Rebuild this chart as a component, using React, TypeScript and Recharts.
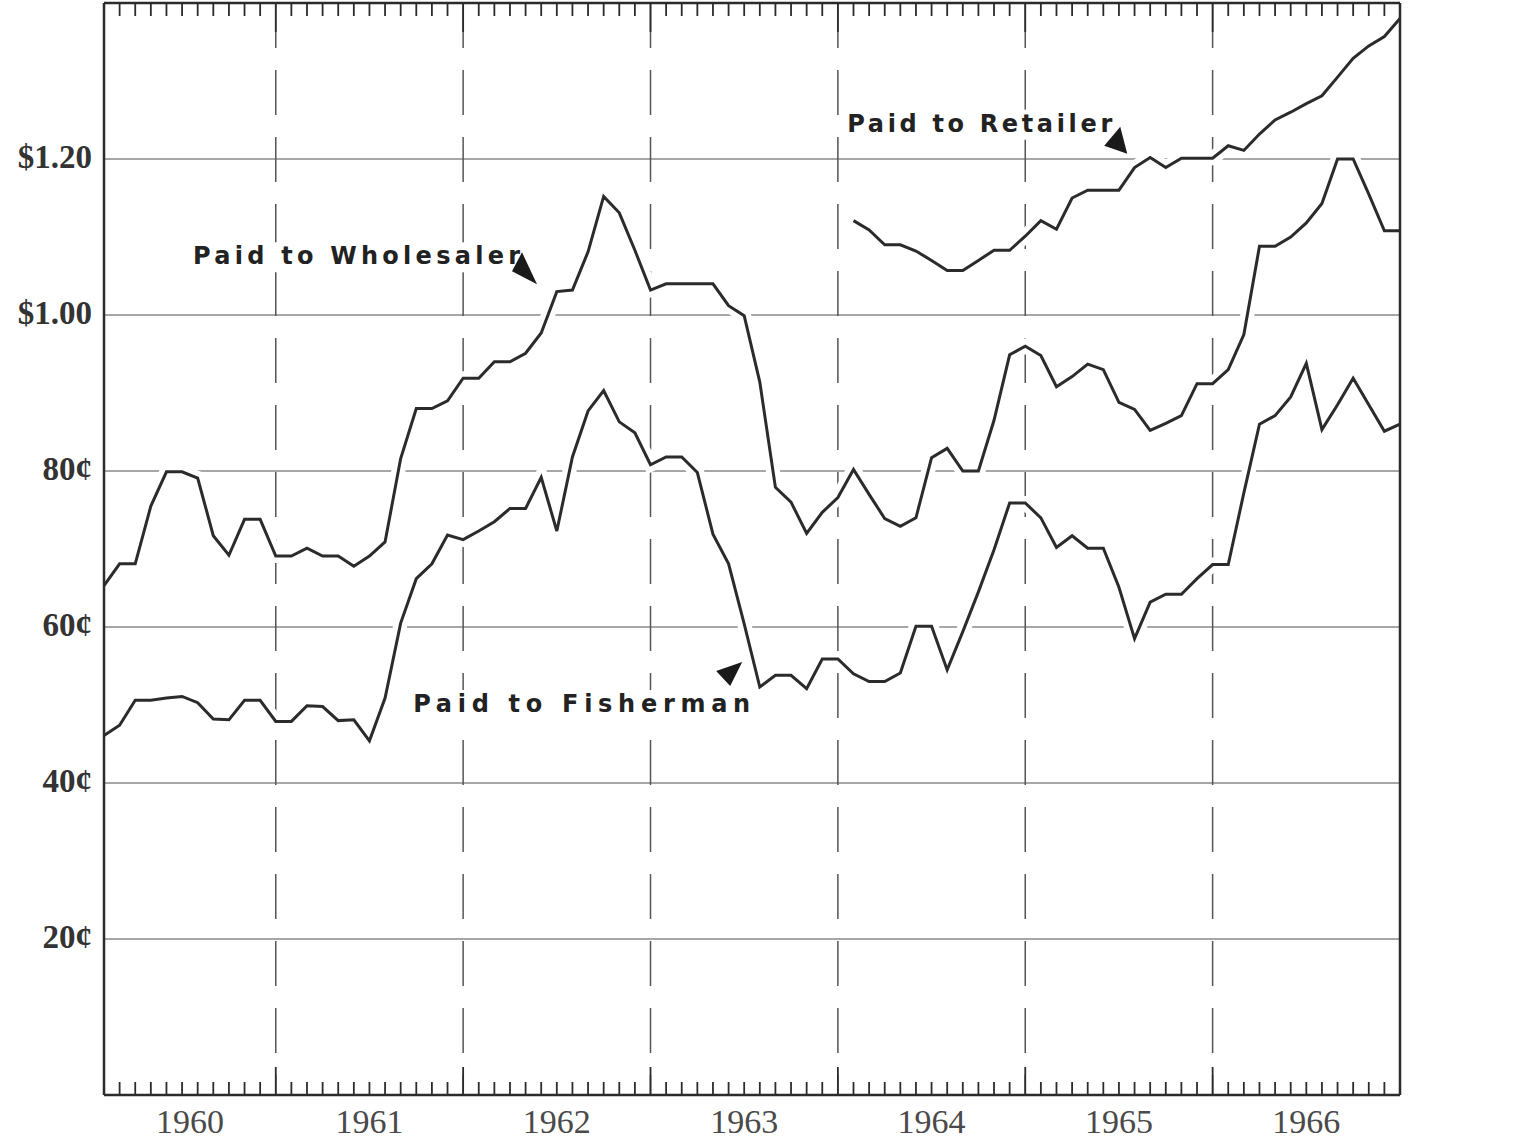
import React from 'react';
import { LineChart, Line, XAxis, YAxis, CartesianGrid, ReferenceLine, ReferenceDot } from 'recharts';

// Monthly prices in cents, month index 1 = Feb 1960 ... 84 = Jan 1967
const wholesaler = [
  65.3, 68.1, 68.1, 75.5, 79.9, 79.9, 79.1, 71.7, 69.2, 73.8, 73.8, 69.1,
  69.1, 70.1, 69.1, 69.1, 67.8, 69.1, 70.9, 81.6, 88.0, 88.0, 89.0, 91.9,
  91.9, 94.0, 94.0, 95.1, 97.7, 103.0, 103.2, 108.1, 115.2, 113.1, 108.3, 103.2,
  104.0, 104.0, 104.0, 104.0, 101.2, 99.9, 91.4, 77.9, 76.0, 72.0, 74.7, 76.6,
  80.2, 77.0, 73.9, 72.9, 74.0, 81.7, 82.9, 80.0, 80.0, 86.5, 94.9, 96.0,
  94.8, 90.8, 92.1, 93.7, 93.0, 88.8, 87.9, 85.2, 86.1, 87.1, 91.2, 91.2,
  93.0, 97.5, 108.8, 108.8, 110.0, 111.8, 114.3, 120.0, 120.0, 115.5, 110.8, 110.8,
];

const fisherman = [
  46.1, 47.4, 50.6, 50.6, 50.9, 51.1, 50.3, 48.2, 48.1, 50.6, 50.6, 47.9,
  47.9, 49.9, 49.8, 48.0, 48.1, 45.4, 50.9, 60.5, 66.2, 68.1, 71.8, 71.2,
  72.3, 73.5, 75.2, 75.2, 79.2, 72.3, 81.8, 87.7, 90.3, 86.3, 84.9, 80.8,
  81.8, 81.8, 79.8, 71.9, 68.1, 60.4, 52.3, 53.8, 53.8, 52.1, 55.9, 55.9,
  54.0, 53.0, 53.0, 54.1, 60.1, 60.1, 54.5, 59.4, 64.5, 69.9, 75.9, 75.9,
  74.0, 70.2, 71.7, 70.1, 70.1, 65.1, 58.5, 63.2, 64.2, 64.2, 66.2, 68.0,
  68.0, 77.2, 86.0, 87.1, 89.5, 93.8, 85.3, 88.5, 91.9, 88.5, 85.1, 86.0,
];

// Retailer series begins at month index 49
const retailerStart = 49;
const retailer = [
  112.1, 110.9, 109.0, 109.0, 108.2, 107.0, 105.7, 105.7, 107.0, 108.3, 108.3, 110.1,
  112.1, 111.0, 115.0, 116.0, 116.0, 116.0, 118.9, 120.2, 118.9, 120.1, 120.1, 120.1,
  121.7, 121.1, 123.2, 125.0, 126.0, 127.1, 128.1, 130.5, 132.9, 134.5, 135.7, 138.0,
];

const yearLabels = ['1960', '1961', '1962', '1963', '1964', '1965', '1966'];
const yearLabelPos = [6.5, 18, 30, 42, 54, 66, 78];
const yearBoundaries = [12, 24, 36, 48, 60, 72];
const yTicks = [20, 40, 60, 80, 100, 120];
const yTickLabels = ['20¢', '40¢', '60¢', '80¢', '$1.00', '$1.20'];

// annotation anchors (data coords: month index, cents)
const annotations = [
  { text: 'Paid to Wholesaler', m: 6.7, v: 106.5, width: 327, tri: [[329, -12], [319, 7], [344, 20]] },
  { text: 'Paid to Retailer', m: 48.6, v: 123.5, width: 265, tri: [[273, -5], [257, 14], [280, 22]] },
  { text: 'Paid to Fisherman', m: 20.8, v: 49.1, width: 337, tri: [[303, -41], [329, -50], [317, -26]] },
];

const data = wholesaler.map((w, i) => {
  const m = i + 1;
  const ri = m - retailerStart;
  return {
    m,
    wholesaler: w,
    fisherman: fisherman[i],
    retailer: ri >= 0 ? retailer[ri] : null,
  };
});

const monthTicks = data.map((d) => d.m).filter((m) => m > 1 && m < 84);
const allTicks = Array.from(new Set([...monthTicks, ...yearLabelPos])).sort((a, b) => a - b);

const W = 1518;
const H = 1143;
const PLOT_TOP = 3;
const PLOT_BOTTOM = 1095;
const INK = '#2b2b2b';

const XTick = (props: any) => {
  const { x, payload } = props;
  const v = payload.value;
  const isMonth = monthTicks.includes(v);
  const isYear = yearBoundaries.includes(v);
  const li = yearLabelPos.indexOf(v);
  return (
    <g>
      {isMonth && (
        <line x1={x} x2={x} y1={PLOT_BOTTOM} y2={PLOT_BOTTOM - (isYear ? 28 : 13)} stroke={INK} strokeWidth={1.8} />
      )}
      {isMonth && (
        <line x1={x} x2={x} y1={PLOT_TOP} y2={PLOT_TOP + (isYear ? 29 : 13)} stroke={INK} strokeWidth={1.8} />
      )}
      {li >= 0 && (
        <text x={x} y={1133} textAnchor="middle" fontFamily="'Liberation Serif', serif" fontSize={34} fill="#4a4a4a">
          {yearLabels[li]}
        </text>
      )}
    </g>
  );
};

const LeftTick = (props: any) => {
  const { y, payload } = props;
  const i = yTicks.indexOf(payload.value);
  return (
    <text x={92} y={y + 9} textAnchor="end" fontFamily="'Liberation Serif', serif" fontWeight={700} fontSize={33} fill="#333">
      {yTickLabels[i]}
    </text>
  );
};

const RightTick = (props: any) => {
  const { y, payload } = props;
  const i = yTicks.indexOf(payload.value);
  return (
    <text x={1423} y={y + 9} textAnchor="start" fontFamily="'Liberation Serif', serif" fontWeight={700} fontSize={33} fill="#333">
      {yTickLabels[i]}
    </text>
  );
};

const Annotation = (a: any) => (props: any) => {
  const { cx, cy } = props;
  const pts = a.tri.map((p: number[]) => `${cx + p[0]},${cy + p[1]}`).join(' ');
  return (
    <g>
      <rect x={cx - 6} y={cy - 22} width={a.width + 10} height={30} fill="#fff" />
      <text
        x={cx}
        y={cy}
        fontFamily="'DejaVu Sans', sans-serif"
        fontWeight={700}
        fontSize={24}
        fill="#222"
        textLength={a.width}
        lengthAdjust="spacing"
      >
        {a.text}
      </text>
      <polygon points={pts} fill="#1a1a1a" />
    </g>
  );
};

const yearLineGenerator = (props: any) => {
  const scale = props?.xAxis?.scale;
  if (typeof scale === 'function') return yearBoundaries.map((b) => scale(b));
  if (scale && typeof scale.map === 'function') return yearBoundaries.map((b) => scale.map(b));
  return [];
};

export default function App() {
  return (
    <div style={{ position: 'absolute', left: 0, top: 0, width: W, height: H, background: '#fff' }}>
      <LineChart width={W} height={H} data={data} margin={{ top: PLOT_TOP, right: 0, bottom: 0, left: 0 }}>
        <CartesianGrid horizontal={true} vertical={false} stroke="#8a8a8a" strokeWidth={1.5} />
        <CartesianGrid
          horizontal={false}
          vertical={true}
          verticalCoordinatesGenerator={yearLineGenerator}
          stroke="#555"
          strokeWidth={1.5}
          strokeDasharray="45 22"
        />
        <XAxis
          type="number"
          dataKey="m"
          domain={[1, 84]}
          ticks={allTicks}
          interval={0}
          tick={<XTick />}
          tickLine={false}
          axisLine={{ stroke: INK, strokeWidth: 2.5 }}
          height={48}
        />
        <YAxis
          domain={[0, 140]}
          ticks={yTicks}
          interval={0}
          width={104}
          tick={<LeftTick />}
          tickLine={false}
          axisLine={{ stroke: INK, strokeWidth: 2.5 }}
        />
        <YAxis
          yAxisId="r"
          orientation="right"
          domain={[0, 140]}
          ticks={yTicks}
          interval={0}
          width={118}
          tick={<RightTick />}
          tickLine={false}
          axisLine={{ stroke: INK, strokeWidth: 2.5 }}
        />
        <ReferenceLine y={140} stroke={INK} strokeWidth={2.5} />
        <Line dataKey="wholesaler" stroke="#fff" strokeWidth={14} dot={false} activeDot={false} isAnimationActive={false} />
        <Line dataKey="fisherman" stroke="#fff" strokeWidth={14} dot={false} activeDot={false} isAnimationActive={false} />
        <Line dataKey="retailer" stroke="#fff" strokeWidth={14} dot={false} activeDot={false} isAnimationActive={false} />
        <Line dataKey="wholesaler" stroke={INK} strokeWidth={3} dot={false} activeDot={false} isAnimationActive={false} />
        <Line dataKey="fisherman" stroke={INK} strokeWidth={3} dot={false} activeDot={false} isAnimationActive={false} />
        <Line dataKey="retailer" stroke={INK} strokeWidth={3} dot={false} activeDot={false} isAnimationActive={false} />
        {annotations.map((a) => (
          <ReferenceDot key={a.text} x={a.m} y={a.v} r={0} ifOverflow="visible" shape={Annotation(a)} />
        ))}
      </LineChart>
    </div>
  );
}
